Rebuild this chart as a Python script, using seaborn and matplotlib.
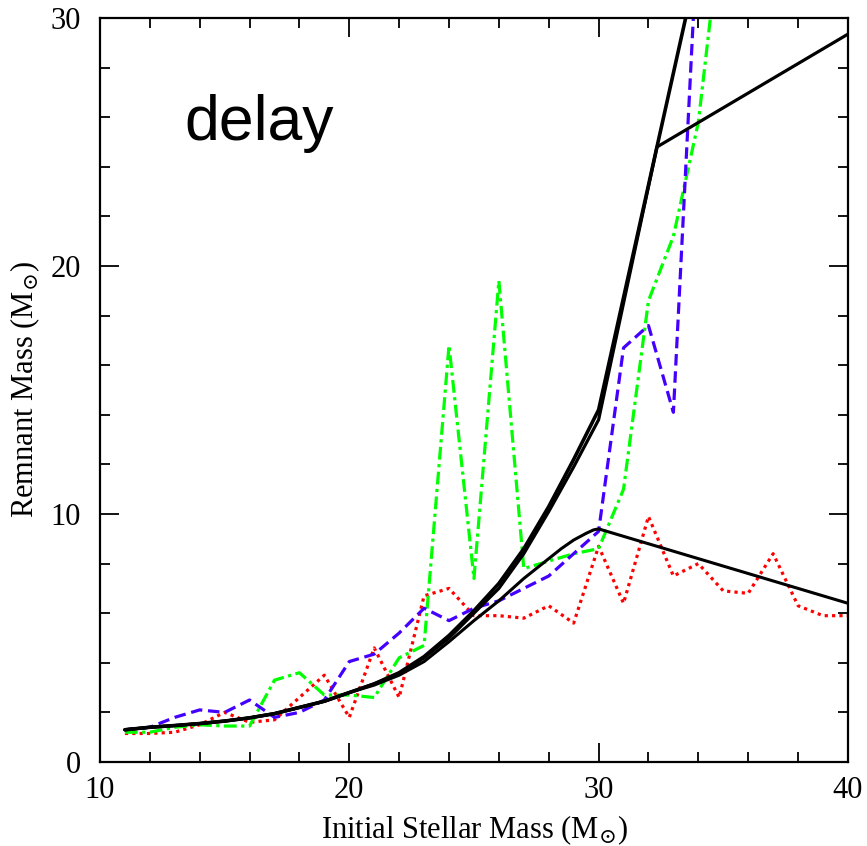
import matplotlib
matplotlib.use("Agg")
import matplotlib.pyplot as plt
import seaborn as sns
import pandas as pd
from matplotlib.ticker import MultipleLocator

# ---- data ----
mass_red = list(range(11, 41))
red = [1.15, 1.15, 1.2, 1.5, 2.0, 1.6, 1.7, 2.6, 3.5, 1.8, 4.6, 2.6, 6.7, 7.0, 5.9,
       5.9, 5.8, 6.3, 5.6, 8.7, 6.4, 9.9, 7.5, 8.0, 6.9, 6.8, 8.4, 6.3, 5.9, 5.9]

mass_green = list(range(11, 36))
green = [1.2, 1.2, 1.4, 1.5, 1.45, 1.45, 3.3, 3.6, 2.7, 2.7, 2.6, 4.2, 4.7, 16.8, 7.4,
         19.4, 7.8, 8.1, 8.4, 8.6, 11.0, 18.6, 21.2, 25.8, 34.5]

mass_blue = list(range(11, 35))
blue = [1.3, 1.4, 1.8, 2.1, 2.0, 2.5, 1.8, 2.0, 2.5, 4.05, 4.35, 5.2, 6.2, 5.7, 6.2,
        6.5, 7.0, 7.5, 8.4, 9.3, 16.7, 17.6, 14.1, 34.0]

mass_A = list(range(11, 31)) + [32.34, 34]
black_A = [1.3, 1.4, 1.47, 1.55, 1.65, 1.78, 1.95, 2.2, 2.45, 2.8, 3.15, 3.6, 4.25,
           5.1, 6.1, 7.2, 8.6, 10.3, 12.2, 14.2, 24.8, 32.3]

mass_B = list(range(11, 31)) + [32.34, 40]
black_B = [1.3, 1.4, 1.47, 1.55, 1.65, 1.78, 1.95, 2.2, 2.45, 2.8, 3.15, 3.55, 4.2,
           5.0, 6.0, 7.0, 8.4, 10.1, 11.9, 13.8, 24.8, 29.35]

mass_C = list(range(11, 29)) + [28.5, 29, 29.5, 29.8, 30, 40]
black_C = [1.3, 1.4, 1.47, 1.55, 1.65, 1.78, 1.95, 2.2, 2.45, 2.8, 3.1, 3.5, 4.05,
           4.85, 5.7, 6.5, 7.4, 8.2, 8.6, 8.95, 9.22, 9.36, 9.4, 6.4]

x_ticks = [10, 20, 30, 40]
y_ticks = [0, 10, 20, 30]

# ---- style ----
sns.set_style("ticks")
plt.rcParams["font.family"] = ["Liberation Serif", "DejaVu Serif"]
plt.rcParams["mathtext.fontset"] = "dejavuserif"
plt.rcParams["text.color"] = "black"
plt.rcParams["axes.labelcolor"] = "black"
plt.rcParams["xtick.color"] = "black"
plt.rcParams["ytick.color"] = "black"

fig = plt.figure(figsize=(8.67, 8.46), dpi=100)
ax = fig.add_axes([0.1153, 0.0993, 0.8627, 0.8794])

lw_col = 2.3
sns.lineplot(x=mass_red, y=red, ax=ax, color="#ff0000", lw=lw_col,
             linestyle=(0, (1.0, 1.3)), estimator=None, sort=False)
sns.lineplot(x=mass_green, y=green, ax=ax, color="#00ff00", lw=lw_col,
             linestyle=(0, (4.0, 1.4, 1.0, 1.4)), estimator=None, sort=False)
sns.lineplot(x=mass_blue, y=blue, ax=ax, color="#4400ff", lw=lw_col,
             linestyle=(0, (3.6, 1.8)), estimator=None, sort=False)
sns.lineplot(x=mass_A, y=black_A, ax=ax, color="black", lw=2.6,
             estimator=None, sort=False)
sns.lineplot(x=mass_B, y=black_B, ax=ax, color="black", lw=2.3,
             estimator=None, sort=False)
sns.lineplot(x=mass_C, y=black_C, ax=ax, color="black", lw=2.2,
             estimator=None, sort=False)

ax.set_xlim(10, 40)
ax.set_ylim(0, 30)
ax.set_xticks(x_ticks)
ax.set_yticks(y_ticks)
ax.xaxis.set_minor_locator(MultipleLocator(2))
ax.yaxis.set_minor_locator(MultipleLocator(2))
ax.tick_params(which="both", direction="in", top=True, right=True, width=1.3,
               color="black", labelcolor="black")
ax.tick_params(which="major", length=14, labelsize=22)
ax.tick_params(which="minor", length=7)
ax.tick_params(axis="x", which="major", pad=10)
ax.tick_params(axis="y", which="major", pad=14)
for s in ax.spines.values():
    s.set_linewidth(1.6)
    s.set_color("black")

ax.set_xlabel(r"Initial Stellar Mass (M$_{\odot}$)", fontsize=22, labelpad=6,
              color="black")
ax.set_ylabel(r"Remnant Mass (M$_{\odot}$)", fontsize=22, labelpad=6,
              color="black")

ax.text(13.4, 25.1, "delay", fontsize=45, family="Liberation Sans",
        color="black", ha="left", va="baseline")

fig.savefig("out.png", dpi=100)
